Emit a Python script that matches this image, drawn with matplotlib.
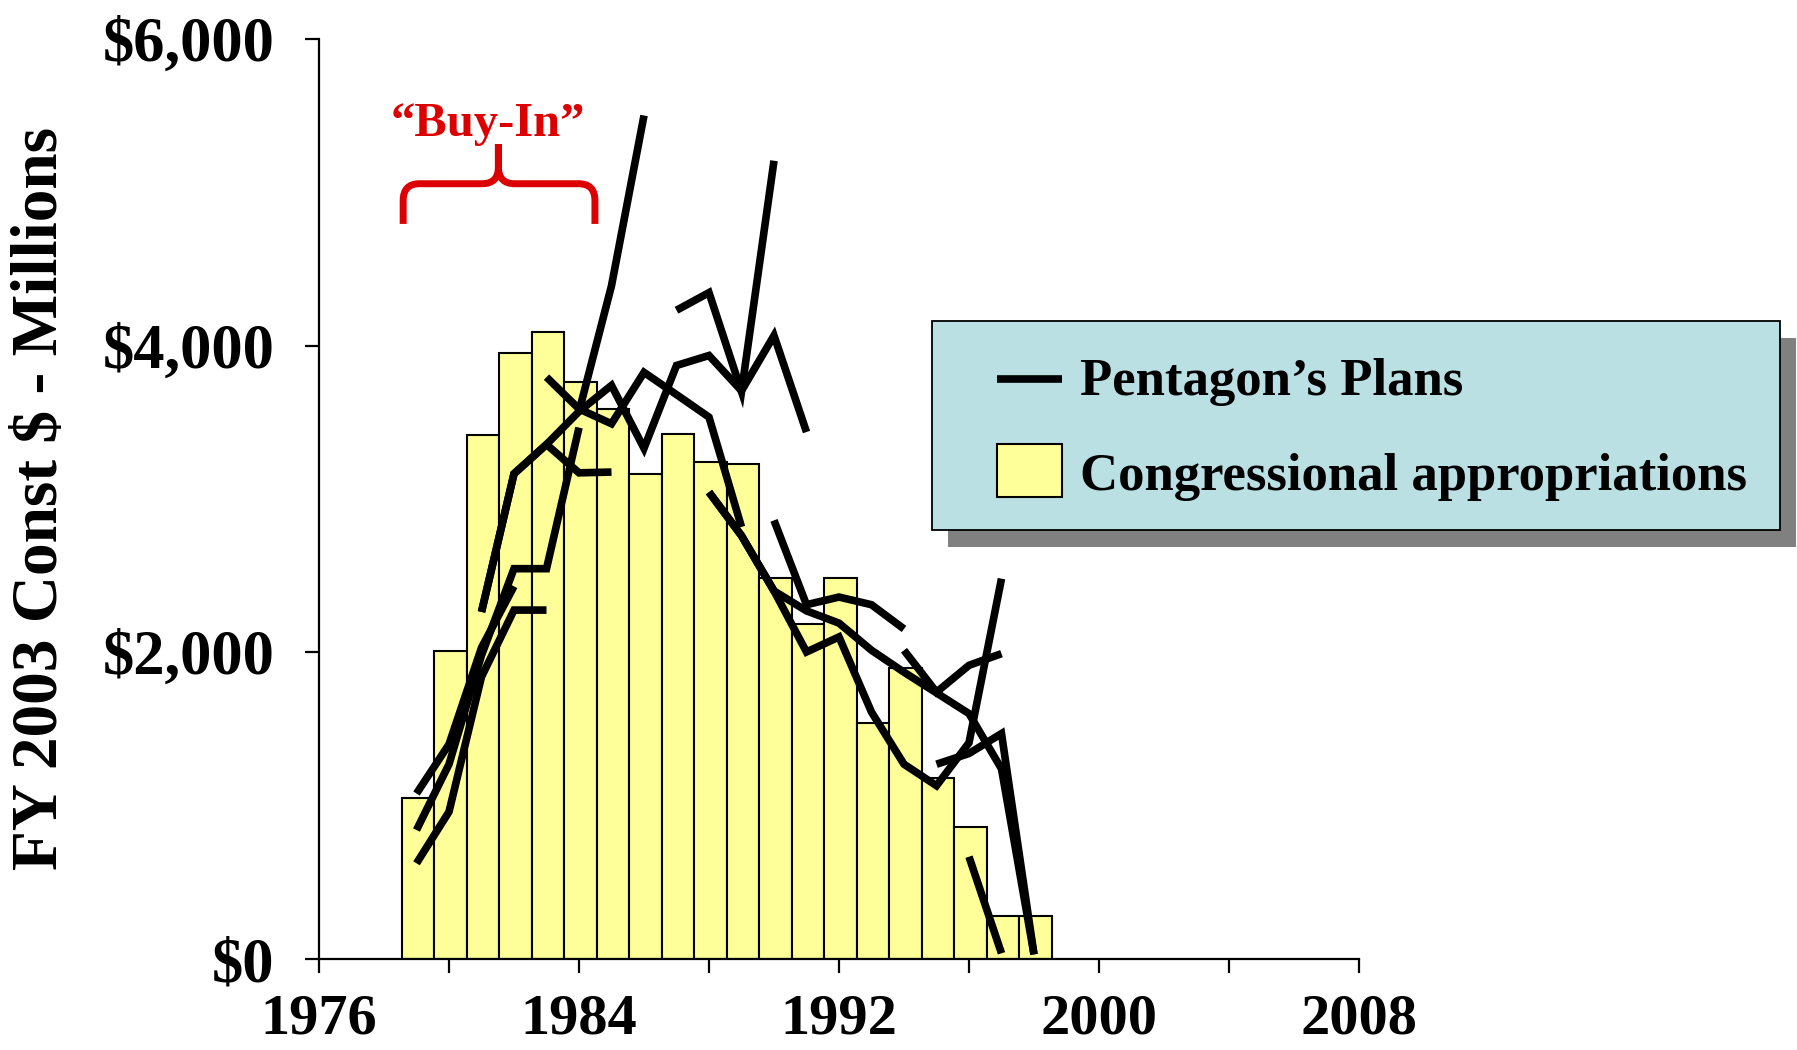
import matplotlib
matplotlib.use("Agg")
import matplotlib.pyplot as plt
from matplotlib.patches import Rectangle, PathPatch
from matplotlib.path import Path
from matplotlib.lines import Line2D

plt.rcParams['font.family'] = ['Liberation Serif', 'DejaVu Serif']
plt.rcParams['font.weight'] = 'bold'

# Congressional appropriations, FY 2003 const $M
bar_years = list(range(1979, 1999))
appropriations = [1050, 2010, 3415, 3950, 4085, 3762, 3585, 3164, 3425, 3240,
                  3230, 2487, 2185, 2487, 1541, 1895, 1183, 861, 280, 280]

# Pentagon's plans: (first year, yearly values)
plan_a = (1979, [1079, 1400, 2030, 2430])
plan_b = (1979, [841, 1270, 1980, 2545, 2545, 3465])
plan_c = (1979, [624, 960, 1840, 2275, 2275])
plan_d = (1981, [2263, 3164, 3355, 3570, 4390, 5500])
plan_e = (1981, [2263, 3164, 3355, 3170, 3175])
plan_f = (1983, [3794, 3587, 3490, 3825, 3680, 3533, 2817])
plan_g = (1984, [3570, 3740, 3330, 3870, 3935, 3705, 4065, 3436])
plan_h = (1987, [4230, 4345, 3700, 5205])
plan_i = (1988, [3044, 2760, 2400, 2002, 2100, 1610, 1270, 1130, 1410, 2480])
plan_j = (1988, [3044, 2760, 2400, 2270, 2190, 2013, 1870, 1735, 1600, 1240, 30])
plan_k = (1990, [2860, 2310, 2360, 2310, 2152])
plan_l = (1994, [2013, 1740, 1915, 1991])
plan_m = (1995, [1270, 1340, 1470, 30])
plan_n = (1996, [667, 37])
plans = [plan_a, plan_b, plan_c, plan_d, plan_e, plan_f, plan_g,
         plan_h, plan_i, plan_j, plan_k, plan_l, plan_m, plan_n]

x_ticks = list(range(1976, 2009, 4))
x_tick_labels = ['1976', '', '1984', '', '1992', '', '2000', '', '2008']
y_ticks = [0, 2000, 4000, 6000]
y_tick_labels = ['$0', '$2,000', '$4,000', '$6,000']

W, H = 1797, 1050


def fx(px):
    return px / W


def fy(py):
    return 1 - py / H


fig = plt.figure(figsize=(W / 100, H / 100), dpi=100)
ax = fig.add_axes([fx(319), fy(959), (1359 - 319) / W, (959 - 38.8) / H])

ax.bar([y + 0.05 for y in bar_years], appropriations, width=1.0,
       color='#FFFF99', edgecolor='black', linewidth=1.5, zorder=2)

for start, vals in plans:
    yrs = list(range(start, start + len(vals)))
    ax.plot(yrs, vals, color='black', lw=5.5, solid_capstyle='butt',
            solid_joinstyle='miter', zorder=3)

ax.set_xlim(1976, 2008)
ax.set_ylim(0, 6000)
ax.set_xticks(x_ticks)
ax.set_xticklabels(x_tick_labels)
ax.set_yticks(y_ticks)
ax.set_yticklabels(y_tick_labels)
for s in ['top', 'right']:
    ax.spines[s].set_visible(False)
for s in ['left', 'bottom']:
    ax.spines[s].set_linewidth(1.6)
ax.tick_params(axis='both', direction='out', length=10, width=1.6,
               labelsize=42)
ax.tick_params(axis='y', pad=22, labelsize=45)
ax.tick_params(axis='x', pad=15)
for lab in ax.get_xticklabels() + ax.get_yticklabels():
    lab.set_fontweight('bold')

fig.text(fx(57), fy(498), 'FY 2003 Const $ - Millions', rotation=90,
         rotation_mode='anchor', ha='center', va='baseline',
         fontsize=47, fontweight='bold')

# "Buy-In" brace
red = '#DD0000'
xl, xr, xm = 1978.59, 1984.49, 1981.52
yb, yh, yt = 4793, 5055, 5314
rx, ry = 0.5, 110
verts = [(xl, yb), (xl, yh - ry), (xl, yh), (xl + rx, yh), (xm - rx, yh),
         (xm, yh), (xm, yh + ry), (xm, yt), (xm, yh + ry), (xm, yh),
         (xm + rx, yh), (xr - rx, yh), (xr, yh), (xr, yh - ry), (xr, yb)]
codes = [Path.MOVETO, Path.LINETO, Path.CURVE3, Path.CURVE3, Path.LINETO,
         Path.CURVE3, Path.CURVE3, Path.LINETO, Path.LINETO, Path.CURVE3,
         Path.CURVE3, Path.LINETO, Path.CURVE3, Path.CURVE3, Path.LINETO]
ax.add_patch(PathPatch(Path(verts, codes), facecolor='none', edgecolor=red,
                       lw=5, capstyle='butt', clip_on=False, zorder=4))
ax.text(1981.18, 5368, '\u201cBuy-In\u201d', color=red, fontsize=35,
        fontweight='bold', ha='center', va='baseline')

# legend box with shadow
fig.add_artist(Rectangle((fx(948), fy(547)), (1796 - 948) / W, (547 - 338) / H,
                         transform=fig.transFigure, facecolor='#808080',
                         edgecolor='none'))
fig.add_artist(Rectangle((fx(932), fy(530)), (1780 - 932) / W, (530 - 321) / H,
                         transform=fig.transFigure, facecolor='#BBE0E3',
                         edgecolor='black', lw=1.3))
fig.add_artist(Line2D([fx(997), fx(1062)], [fy(379), fy(379)], color='black',
                      lw=5.5, solid_capstyle='butt', transform=fig.transFigure))
fig.add_artist(Rectangle((fx(997), fy(497)), (1062 - 997) / W, (497 - 444) / H,
                         transform=fig.transFigure, facecolor='#FFFF99',
                         edgecolor='black', lw=1.5))
fig.text(fx(1080), fy(395), 'Pentagon\u2019s Plans', fontsize=38,
         fontweight='bold', va='baseline', ha='left')
fig.text(fx(1080), fy(490), 'Congressional appropriations', fontsize=38,
         fontweight='bold', va='baseline', ha='left')

fig.savefig('out.png', dpi=100)
